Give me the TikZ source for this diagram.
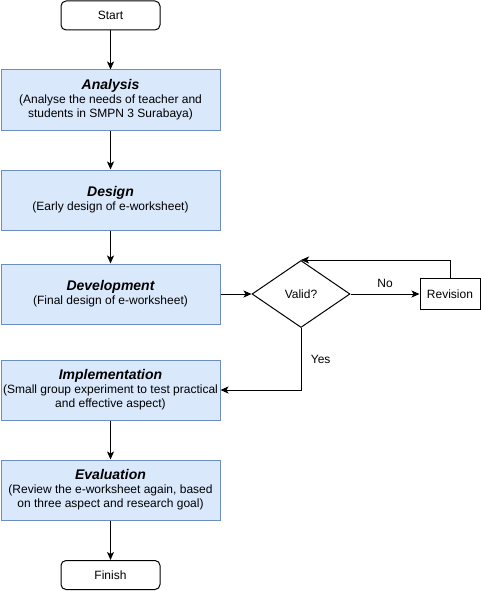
\documentclass[tikz,border=0pt]{standalone}
\usepackage{fontspec}
\setmainfont{Liberation Sans}
\usetikzlibrary{arrows.meta,positioning,shapes.geometric}
\definecolor{stagefill}{HTML}{DAE8FC}
\definecolor{stageline}{HTML}{6C8EBF}
\newcommand{\stagetitle}[1]{{\fontsize{14}{15}\selectfont\bfseries\itshape #1}}

\begin{document}
\begin{tikzpicture}[x=1pt,y=-1pt,
  terminal/.style={rounded corners=5pt,draw,line width=1pt,fill=white,minimum width=99pt,minimum height=29pt,inner sep=0pt},
  stage/.style={draw=stageline,line width=1pt,fill=stagefill,minimum width=219pt,minimum height=60pt,inner sep=1pt,align=center,font=\fontsize{12}{14}\selectfont},
  decision/.style={diamond,draw,line width=1pt,fill=white,minimum width=98pt,minimum height=67pt,aspect=1.46,inner sep=0pt},
  revbox/.style={draw,line width=1pt,fill=white,minimum width=60pt,minimum height=31pt,inner sep=0pt},
  arrow/.style={-{Stealth[length=8pt,width=7pt,inset=2pt]},line width=1pt}
]
  \useasboundingbox (0,0) rectangle (481,591);
  \begin{scope}[font=\fontsize{12}{14}\selectfont]
  \node[terminal] (start) at (110.5,15.5) {Start};
  \node[stage] (analysis) at (110.5,100) {\stagetitle{Analysis}\\(Analyse the needs of teacher and\\students in SMPN 3 Surabaya)};
  \node[stage] (design) at (110.5,200) {\stagetitle{Design}\\(Early design of e-worksheet)};
  \node[stage] (develop) at (110.5,294) {\stagetitle{Development}\\(Final design of e-worksheet)};
  \node[decision] (valid) at (301,294) {Valid?};
  \node[revbox] (revision) at (450,294) {Revision};
  \node[stage] (implement) at (110.5,390) {\stagetitle{Implementation}\\(Small group experiment to test practical\\and effective aspect)};
  \node[stage] (evaluate) at (110.5,490) {\stagetitle{Evaluation}\\(Review the e-worksheet again, based\\on three aspect and research goal)};
  \node[terminal] (finish) at (110.5,575) {Finish};

  \draw[arrow] (start) -- (analysis);
  \draw[arrow] (analysis) -- (design);
  \draw[arrow] (design) -- (develop);
  \draw[arrow] (develop) -- (valid);
  \draw[arrow] (valid) -- node[above=3pt] {No} (revision);
  \draw[arrow] (revision.north) |- (valid.north);
  \draw[arrow] (valid.south) |- node[pos=0.25,right=6pt] {Yes} (implement.east);
  \draw[arrow] (implement) -- (evaluate);
  \draw[arrow] (evaluate) -- (finish);
  \end{scope}
\end{tikzpicture}
\end{document}
